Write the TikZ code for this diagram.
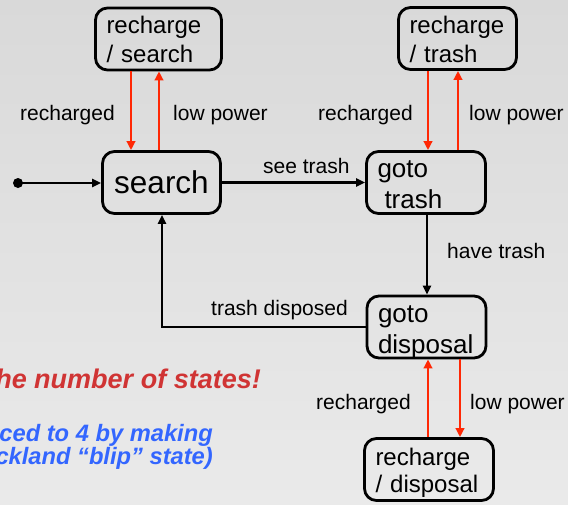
\documentclass[tikz,border=0pt]{standalone}
\usepackage{fontspec}
\setmainfont{Liberation Sans}
\usetikzlibrary{arrows.meta,calc}
\definecolor{bgtop}{RGB}{217,217,217}
\definecolor{bgbot}{RGB}{234,234,234}
\definecolor{powerred}{RGB}{255,40,5}
\definecolor{notered}{RGB}{208,52,52}
\definecolor{noteblue}{RGB}{51,102,255}
\begin{document}
\begin{tikzpicture}[x=1pt,y=-1pt,
  statebox/.style={draw=black, line width=2.8pt, rounded corners=12pt,
    inner ysep=0pt, inner xsep=11pt, minimum height=62pt, align=left},
  rechargefont/.style={font=\fontsize{24}{29}\selectfont},
  gotofont/.style={font=\fontsize{26}{31}\selectfont},
  lbl/.style={font=\fontsize{21}{25}\selectfont, anchor=base west, inner sep=0pt},
  redarr/.style={draw=powerred, line width=2.6pt, -{Triangle[length=9pt,width=8.5pt]}},
  blackarr/.style={draw=black, line width=2.4pt, -{Triangle[length=9pt,width=8pt]}},
  note/.style={anchor=base east, inner sep=0pt},
  rednote/.style={note, text=notered, font=\fontsize{27}{30}\selectfont\bfseries\itshape},
  bluenote/.style={note, text=noteblue, font=\fontsize{23.7}{28}\selectfont\bfseries\itshape}]
  \useasboundingbox (0,0) rectangle (568,504);
  \clip (0,0) rectangle (568,504);
  % background
  \shade[top color=bgtop, bottom color=bgbot] (0,0) rectangle (568,504);

  % states (text height/depth place the first baseline inside each box)
  \node[statebox, rechargefont, text width=104pt, text height=17pt, text depth=29pt] (rs) at (158.5,39) {recharge\\/ search};
  \node[statebox, inner xsep=0pt, minimum width=118pt, font=\fontsize{31.5}{36}\selectfont] (search) at (161.5,182.5) {search};
  \node[statebox, rechargefont, text width=96pt, text height=17pt, text depth=28pt] (rt) at (457.5,38.5) {recharge\\/ trash};
  \node[statebox, gotofont, text width=97pt, text height=19pt, text depth=30pt] (gt) at (426,182.5) {goto\\\hspace*{7pt}trash};
  \node[statebox, gotofont, text width=97pt, text height=20pt, text depth=30pt] (gd) at (426.5,327) {goto\\disposal};
  \node[statebox, font=\fontsize{24}{27}\selectfont, text width=107pt, text height=18pt, text depth=27pt] (rd) at (429,469.5) {recharge\\/ disposal};

  % column positions of the vertical connectors
  \coordinate (xa) at (131,0);
  \coordinate (xb) at (159,0);
  \coordinate (xc) at (428,0);
  \coordinate (xd) at (458,0);
  \coordinate (xe) at (427,0);
  \coordinate (xf) at (428,0);
  \coordinate (xg) at (460,0);
  \coordinate (xh) at (162,0);

  % initial state
  \coordinate (init) at (18,183);
  \fill (init) circle (5pt);
  \draw[blackarr] (init) -- (init -| search.west);

  % recharge loops
  \draw[redarr] (rs.south -| xa) -- (search.north -| xa);
  \draw[redarr] (search.north -| xb) -- (rs.south -| xb);
  \draw[redarr] (rt.south -| xc) -- (gt.north -| xc);
  \draw[redarr] (gt.north -| xd) -- (rt.south -| xd);
  \draw[redarr] (rd.north -| xf) -- (gd.south -| xf);
  \draw[redarr] (gd.south -| xg) -- (rd.north -| xg);

  % task transitions
  \draw[blackarr] (search.east) -- (gt.west);
  \draw[blackarr] (gt.south -| xe) -- (gd.north -| xe);
  \draw[blackarr] (gd.west) -- (gd.west -| xh) -- (search.south -| xh);

  % transition labels
  \node[lbl] (l1) at (20,120) {recharged};
  \node[lbl] (l2) at (173,120) {low power};
  \node[lbl] (l3) at (318,120) {recharged};
  \node[lbl] (l4) at (469,120) {low power};
  \node[lbl] (l5) at (263,173) {see trash};
  \node[lbl] (l6) at (447,258) {have trash};
  \node[lbl] (l7) at (211,315) {trash disposed};
  \node[lbl] (l8) at (316,409) {recharged};
  \node[lbl] (l9) at (470,409) {low power};

  % notes
  \node[rednote] (n1) at (261,388) {the number of states!};
  \node[bluenote] (n2) at (213,441) {ced to 4 by making};
  \node[bluenote] (n3) at (213,464) {ckland “blip” state)};
\end{tikzpicture}
\end{document}
